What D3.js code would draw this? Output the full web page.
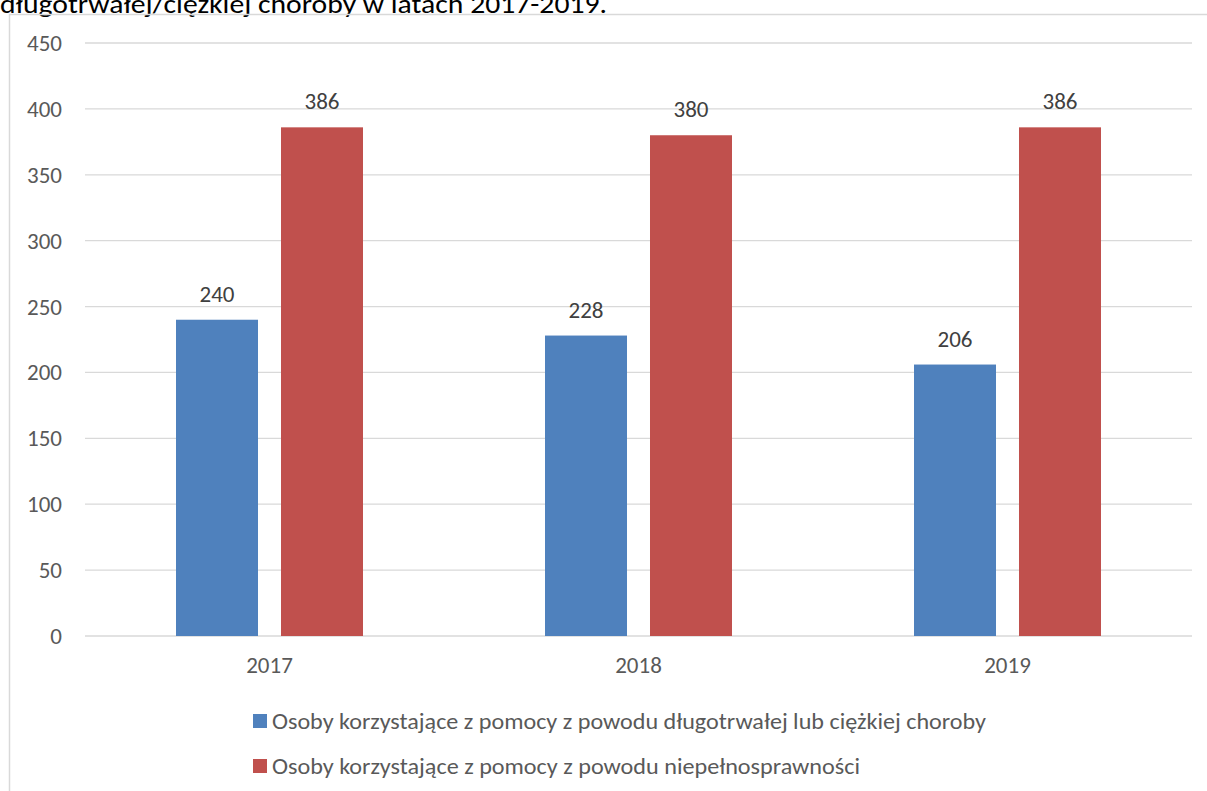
<!DOCTYPE html>
<html>
<head>
<meta charset="utf-8">
<script src="https://cdn.jsdelivr.net/npm/d3@7"></script>
<style>
  body { margin: 0; background: #fff; }
  svg text { font-family: Carlito, "Open Sans", sans-serif; }
</style>
</head>
<body>
<div id="chart"></div>
<script>
// data
const years = ['2017', '2018', '2019']
const seriesNames = [
  'Osoby korzystające z pomocy z powodu długotrwałej lub ciężkiej choroby',
  'Osoby korzystające z pomocy z powodu niepełnosprawności',
]
const chorobaValues = [240, 228, 206]
const niepelnoValues = [386, 380, 386]
const yTicks = [0, 50, 100, 150, 200, 250, 300, 350, 400, 450]
const colors = ['#4F81BD', '#C0504D']

const width = 1207
const height = 791
const margin = { left: 85, right: 15, top: 43, bottom: 155 }

const svg = d3.select('#chart')
  .append('svg')
  .attr('width', width)
  .attr('height', height)

// title line, cut off at the top like in the source
svg.append('text')
  .attr('x', 0)
  .attr('y', 13)
  .attr('font-size', 26)
  .attr('fill', '#000')
  .attr('textLength', 607)
  .attr('lengthAdjust', 'spacingAndGlyphs')
  .text('długotrwałej/ciężkiej choroby w latach 2017-2019.')

// chart frame
svg.append('rect')
  .attr('x', 9.5)
  .attr('y', 14.5)
  .attr('width', 1210)
  .attr('height', 800)
  .attr('fill', 'none')
  .attr('stroke', '#d9d9d9')
  .attr('stroke-width', 1.5)

const x = d3.scaleBand()
  .domain(years)
  .range([margin.left, width - margin.right])

const x1 = d3.scaleBand()
  .domain([0, 1])
  .range([0, 187])
  .paddingInner(0.219)

const y = d3.scaleLinear()
  .domain([0, 450])
  .range([height - margin.bottom, margin.top])

// gridlines
svg.append('g')
  .selectAll('line')
  .data(yTicks)
  .join('line')
  .attr('x1', margin.left)
  .attr('x2', width - margin.right)
  .attr('y1', d => y(d))
  .attr('y2', d => y(d))
  .attr('stroke', '#d9d9d9')
  .attr('stroke-width', 1.3)

// y tick labels
svg.append('g')
  .selectAll('text')
  .data(yTicks)
  .join('text')
  .attr('x', 62)
  .attr('y', d => y(d))
  .attr('dy', '0.35em')
  .attr('text-anchor', 'end')
  .attr('font-size', 23)
  .attr('fill', '#595959')
  .text(d => d)

// bars
const series = [chorobaValues, niepelnoValues]
const groups = svg.append('g')
  .selectAll('g')
  .data(years)
  .join('g')
  .attr('transform', d => `translate(${x(d) + x.bandwidth() / 2 - 93.5},0)`)

groups.selectAll('rect')
  .data((d, i) => series.map((s, k) => ({ k, v: s[i] })))
  .join('rect')
  .attr('x', d => x1(d.k))
  .attr('y', d => y(d.v))
  .attr('width', x1.bandwidth())
  .attr('height', d => y(0) - y(d.v))
  .attr('fill', d => colors[d.k])

groups.selectAll('text')
  .data((d, i) => series.map((s, k) => ({ k, v: s[i] })))
  .join('text')
  .attr('x', d => x1(d.k) + x1.bandwidth() / 2)
  .attr('y', d => y(d.v) - 18)
  .attr('text-anchor', 'middle')
  .attr('font-size', 23)
  .attr('fill', '#404040')
  .text(d => d.v)

// x labels
svg.append('g')
  .selectAll('text')
  .data(years)
  .join('text')
  .attr('x', d => x(d) + x.bandwidth() / 2)
  .attr('y', y(0) + 29)
  .attr('dy', '0.35em')
  .attr('text-anchor', 'middle')
  .attr('font-size', 23)
  .attr('fill', '#595959')
  .text(d => d)

// legend
const legendLengths = [714, 588]
const legend = svg.append('g')
  .selectAll('g')
  .data(seriesNames)
  .join('g')
  .attr('transform', (d, i) => `translate(253,${714 + i * 45})`)

legend.append('rect')
  .attr('width', 14)
  .attr('height', 14)
  .attr('fill', (d, i) => colors[i])

legend.append('text')
  .attr('x', 19)
  .attr('y', 7)
  .attr('dy', '0.35em')
  .attr('font-size', 22)
  .attr('fill', '#595959')
  .attr('textLength', (d, i) => legendLengths[i])
  .attr('lengthAdjust', 'spacingAndGlyphs')
  .text(d => d)
</script>
</body>
</html>
